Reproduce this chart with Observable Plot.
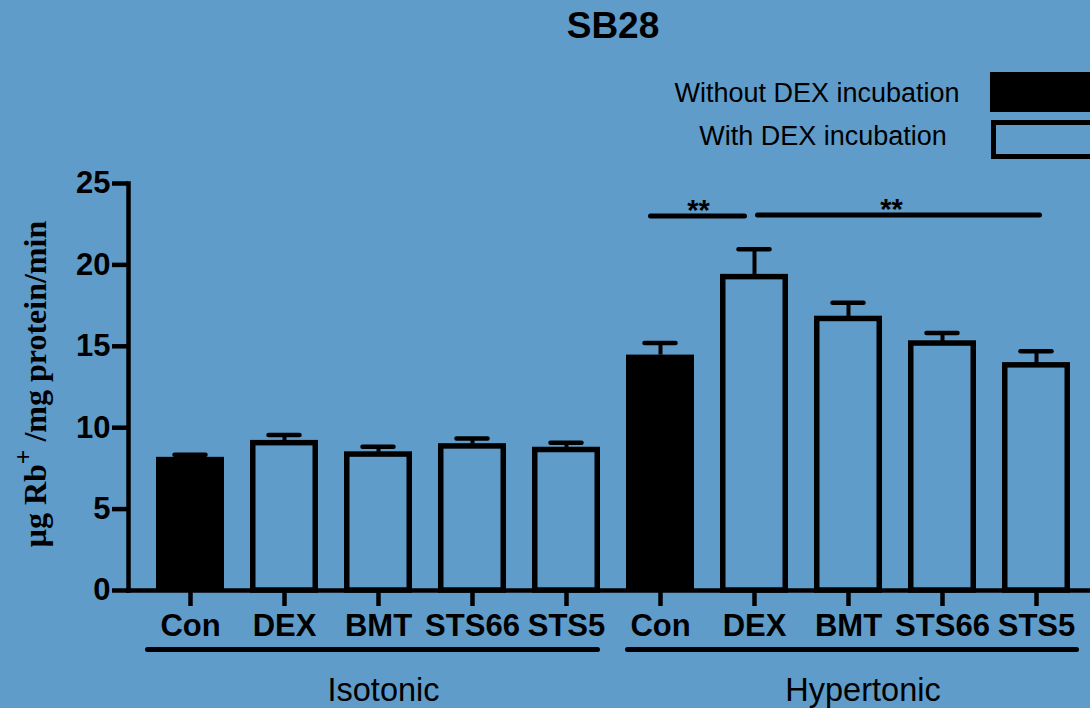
<!DOCTYPE html>
<html>
<head>
<meta charset="utf-8">
<script src="https://cdn.jsdelivr.net/npm/d3@7"></script>
<script src="https://cdn.jsdelivr.net/npm/@observablehq/plot@0.6"></script>
<style>
  html, body { margin: 0; padding: 0; background: #5f9cca; }
  #wrap { position: relative; width: 1090px; height: 708px; overflow: hidden; background: #5f9cca; font-family: "Liberation Sans", Arial, sans-serif; color: #000; }
  #chart { position: absolute; left: 0; top: 0; }
  .abs { position: absolute; white-space: nowrap; }
  #title { left: 413px; width: 400px; top: 7px; text-align: center; font-size: 37px; font-weight: bold; line-height: 37px; }
  .legtext { font-size: 27px; line-height: 27px; width: 400px; text-align: center; }
  #ylabel { left: 35px; top: 384px; transform: translate(-50%, -50%) rotate(-90deg); font-family: "Liberation Serif", "Times New Roman", serif; font-weight: bold; font-size: 32px; line-height: 32px; }
  #ylabel sup { font-size: 0.8em; line-height: 0; vertical-align: 0.55em; }
</style>
</head>
<body>
<div id="wrap">
  <div id="chart"></div>
  <div id="title" class="abs"></div>
  <div id="leg0" class="abs legtext" style="left:617px; top:80px;"></div>
  <div id="leg1" class="abs legtext" style="left:623px; top:123px;"></div>
  <div class="abs" style="left:990px; top:72px; width:110px; height:40px; background:#000;"></div>
  <div class="abs" style="left:991px; top:120px; width:110px; height:39px; border:5.5px solid #000; box-sizing:border-box;"></div>
  <div id="ylabel" class="abs">μg Rb<sup>+</sup> /mg protein/min</div>
</div>
<script>
// ---- data ----
const title = "SB28";
const groups = ["Isotonic", "Hypertonic"];
const treatments = ["Con", "DEX", "BMT", "STS66", "STS5"];
const isotonicMeans = [8.18, 9.05, 8.35, 8.85, 8.63];
const isotonicSEM = [0.16, 0.50, 0.48, 0.48, 0.45];
const hypertonicMeans = [14.46, 19.25, 16.68, 15.17, 13.83];
const hypertonicSEM = [0.75, 1.71, 0.99, 0.64, 0.87];
const dexIncubated = [false, true, true, true, true];
const yTicks = [0, 5, 10, 15, 20, 25];
const legendLabels = ["Without DEX incubation", "With DEX incubation"];
const brackets = [
  {group: "Hypertonic", from: "Con", to: "DEX", value: 23.0, label: "**"},
  {group: "Hypertonic", from: "DEX", to: "STS5", value: 23.07, label: "**"}
];

// ---- styles (offsets, not data) ----
const bracketDx = [-10, 3];
const starDx = [38, 137];
const groupLabelDx = [5, 14.5];
const groupLineInsets = [[-8.5, 2.5], [1.5, -6.5]];

document.getElementById("title").textContent = title;
document.getElementById("leg0").textContent = legendLabels[0];
document.getElementById("leg1").textContent = legendLabels[1];

const means = [isotonicMeans, hypertonicMeans];
const sems = [isotonicSEM, hypertonicSEM];
const rows = groups.flatMap((g, gi) => treatments.map((t, ti) => ({
  group: g, treatment: t, key: g + "|" + t,
  mean: means[gi][ti], sem: sems[gi][ti], dex: dexIncubated[ti]
})));
const keys = rows.map(d => d.key);
const spans = groups.map((g, gi) => ({
  group: g, first: g + "|" + treatments[0], last: g + "|" + treatments[treatments.length - 1],
  middle: g + "|" + treatments[2], gi
}));
const br = brackets.map((b, i) => ({...b, x1: b.group + "|" + b.from, x2: b.group + "|" + b.to, i}));

const groupLineMarks = spans.map((s, i) => Plot.ruleY([s], {
  x1: "first", x2: "last", y: () => 0, dy: 59,
  stroke: "black", strokeWidth: 5, strokeLinecap: "round",
  insetLeft: groupLineInsets[i][0], insetRight: groupLineInsets[i][1]
}));
const groupLabelMarks = spans.map((s, i) => Plot.text([s], {
  x: "middle", y: () => 0, text: "group", dy: 100, dx: groupLabelDx[i],
  fontSize: 32.5, fontWeight: "normal", fill: "black"
}));
const bracketMarks = br.map((b, i) => Plot.link([b], {
  x1: "x1", x2: "x2", y1: "value", y2: "value", dx: bracketDx[i],
  stroke: "black", strokeWidth: 5, strokeLinecap: "round"
}));
const starMarks = br.map((b, i) => Plot.text([b], {
  x: "x1", y: "value", text: "label", dx: starDx[i], dy: -5,
  fontSize: 29, fontWeight: "bold", fill: "black"
}));

const chart = Plot.plot({
  width: 1100,
  height: 708,
  marginLeft: 128,
  marginRight: 2,
  marginTop: 183,
  marginBottom: 118,
  style: {background: "none", color: "black", fontFamily: "'Liberation Sans', Arial, sans-serif", overflow: "visible", maxWidth: "none"},
  x: {type: "band", domain: keys, paddingInner: 0.277, paddingOuter: 0.298, align: 0.5, axis: null},
  y: {domain: [0, 25], axis: null},
  marks: [
    Plot.ruleX(rows, {x: "key", y1: "mean", y2: d => d.mean + d.sem, stroke: "black", strokeWidth: 4}),
    Plot.tickY(rows, {x: "key", y: d => d.mean + d.sem, stroke: "black", strokeWidth: 4.5, strokeLinecap: "round", insetLeft: 18.5, insetRight: 18.5}),
    Plot.barY(rows.filter(d => !d.dex), {x: "key", y: "mean", fill: "black"}),
    Plot.barY(rows.filter(d => d.dex), {x: "key", y: "mean", fill: "none", stroke: "black", strokeWidth: 5.5, insetLeft: 2.75, insetRight: 2.75}),
    Plot.frame({anchor: "left", stroke: "black", strokeWidth: 4.5}),
    Plot.frame({anchor: "bottom", stroke: "black", strokeWidth: 4.5}),
    Plot.axisY({ticks: yTicks, tickSize: 16, tickPadding: 2, fontSize: 31, fontWeight: "bold", stroke: "black", strokeWidth: 4.5, fill: "black", label: null}),
    Plot.axisX({tickFormat: k => k.split("|")[1], tickSize: 16, tickPadding: 7, fontSize: 31, fontWeight: "bold", stroke: "black", strokeWidth: 4.5, fill: "black", label: null}),
    ...groupLineMarks,
    ...groupLabelMarks,
    ...bracketMarks,
    ...starMarks
  ]
});
document.getElementById("chart").appendChild(chart);
</script>
</body>
</html>
